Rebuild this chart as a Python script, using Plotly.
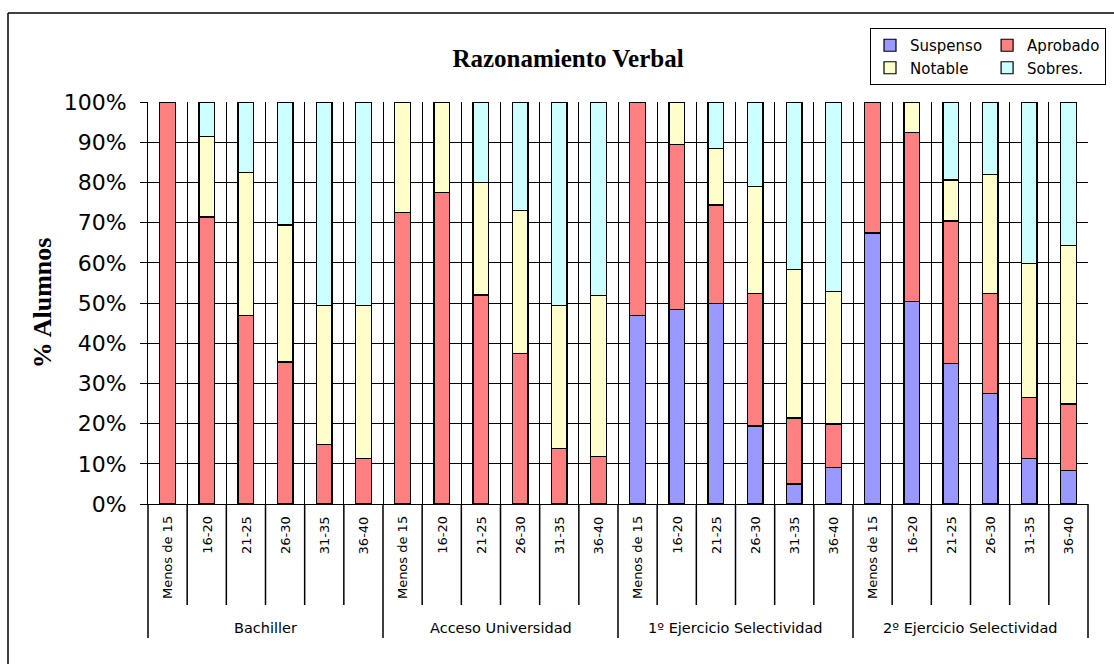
import plotly.graph_objects as go

# ---------------- data ----------------
groups = ["Bachiller", "Acceso Universidad", "1º Ejercicio Selectividad", "2º Ejercicio Selectividad"]
ages = ["Menos de 15", "16-20", "21-25", "26-30", "31-35", "36-40"]

suspenso = [0, 0, 0, 0, 0, 0,
            0, 0, 0, 0, 0, 0,
            46.9, 48.4, 49.9, 19.4, 5.0, 9.0,
            67.4, 50.4, 34.9, 27.4, 11.3, 8.3]
aprobado = [100, 71.4, 46.9, 35.3, 14.9, 11.4,
            72.5, 77.5, 52.0, 37.4, 13.9, 11.8,
            53.1, 41.1, 24.5, 33.0, 16.4, 10.9,
            32.6, 42.1, 35.5, 25.0, 15.1, 16.6]
notable = [0, 20.0, 35.6, 34.1, 34.4, 37.9,
           27.5, 22.5, 28.0, 35.6, 35.4, 40.0,
           0, 10.5, 14.1, 26.5, 37.0, 33.0,
           0, 7.5, 10.2, 29.6, 33.5, 39.5]
sobres = [0, 8.6, 17.5, 30.6, 50.7, 50.7,
          0, 0, 20.0, 27.0, 50.7, 48.2,
          0, 0, 11.5, 21.1, 41.6, 47.1,
          0, 0, 19.4, 18.0, 40.1, 35.6]

series_names = ["Suspenso", "Aprobado", "Notable", "Sobres."]
series_values = [suspenso, aprobado, notable, sobres]
series_colors = ["#9999FF", "#FF8080", "#FFFFCC", "#CCFFFF"]
legend_cols = ["c1", "c2", "c1", "c2"]

title_text = "Razonamiento Verbal"
y_title = "% Alumnos"

# ---------------- layout geometry ----------------
W, H = 1114, 664
PL, PR, PT, PB = 148, 1088, 102, 504


def px(x):
    return (x - PL) / (PR - PL)


def py(y):
    return (PB - y) / (PB - PT)


x_outer = [g for g in groups for a in ages]
x_inner = [a for g in groups for a in ages]
n_cat = len(x_inner)

fig = go.Figure()
for name, vals, col, lg in zip(series_names, series_values, series_colors, legend_cols):
    fig.add_trace(go.Bar(
        x=[x_outer, x_inner], y=vals, name=name,
        marker=dict(color=col, line=dict(color="black", width=1.2)),
        legendgroup=lg,
    ))

SANS = "DejaVu Sans"
SERIF = "Liberation Serif"

annotations = []
shapes = []
# inner category labels and separators
for i, a in enumerate(x_inner):
    annotations.append(dict(
        x=(i + 0.5) / n_cat, y=py(514), xref="paper", yref="paper",
        text=a, textangle=-90, showarrow=False, xanchor="center", yanchor="top",
        font=dict(family=SANS, size=13, color="black"),
    ))
for k in range(n_cat + 1):
    is_group = k % len(ages) == 0
    y_end = 638 if is_group else 605
    shapes.append(dict(type="line", xref="paper", yref="paper",
                       x0=k / n_cat, x1=k / n_cat, y0=0, y1=py(y_end),
                       line=dict(color="black", width=1.5)))
for gi, g in enumerate(groups):
    annotations.append(dict(
        x=(gi + 0.5) * len(ages) / n_cat, y=py(628), xref="paper", yref="paper",
        text=g, showarrow=False, xanchor="center", yanchor="middle",
        font=dict(family=SANS, size=14.5, color="black"),
    ))

# outer chart border (left and top visible)
shapes.append(dict(type="line", xref="paper", yref="paper",
                   x0=px(8), x1=px(8), y0=py(13), y1=py(670),
                   line=dict(color="black", width=1.5)))
shapes.append(dict(type="line", xref="paper", yref="paper",
                   x0=px(8), x1=px(1120), y0=py(13), y1=py(13),
                   line=dict(color="black", width=1.5)))

fig.update_layout(
    width=W, height=H,
    margin=dict(l=PL, r=W - PR, t=PT, b=H - PB, autoexpand=False),
    paper_bgcolor="white", plot_bgcolor="white",
    barmode="stack", bargap=0.6,
    title=dict(text="<b>" + title_text + "</b>", x=568 / W, xanchor="center",
               y=1 - 58 / H, yanchor="middle",
               font=dict(family=SERIF, size=25, color="black")),
    legend=dict(orientation="h", traceorder="grouped",
                x=px(1106), xanchor="right", y=py(28), yanchor="top",
                bordercolor="black", borderwidth=1, bgcolor="white",
                font=dict(family=SANS, size=15, color="black"),
                itemclick=False, itemdoubleclick=False),
    xaxis=dict(showticklabels=False, showgrid=True, gridcolor="black", gridwidth=1,
               tickson="boundaries", ticks="", showdividers=False,
               showline=True, linecolor="black", linewidth=1, automargin=False),
    yaxis=dict(range=[0, 100], dtick=10, ticksuffix="%", showgrid=True,
               gridcolor="black", gridwidth=1, showline=True, linecolor="black",
               linewidth=1, ticks="outside", ticklen=7, tickcolor="black",
               ticklabelstandoff=9, zeroline=False, automargin=False,
               tickfont=dict(family=SANS, size=22, color="black"),
               title=dict(text="<b>" + y_title + "</b>", standoff=4,
                          font=dict(family=SERIF, size=26, color="black"))),
    annotations=annotations,
    shapes=shapes,
)

fig.write_html(
    "out.html",
    config={"displayModeBar": False},
    post_script="document.body.style.margin='0';document.body.style.overflow='hidden';",
)
